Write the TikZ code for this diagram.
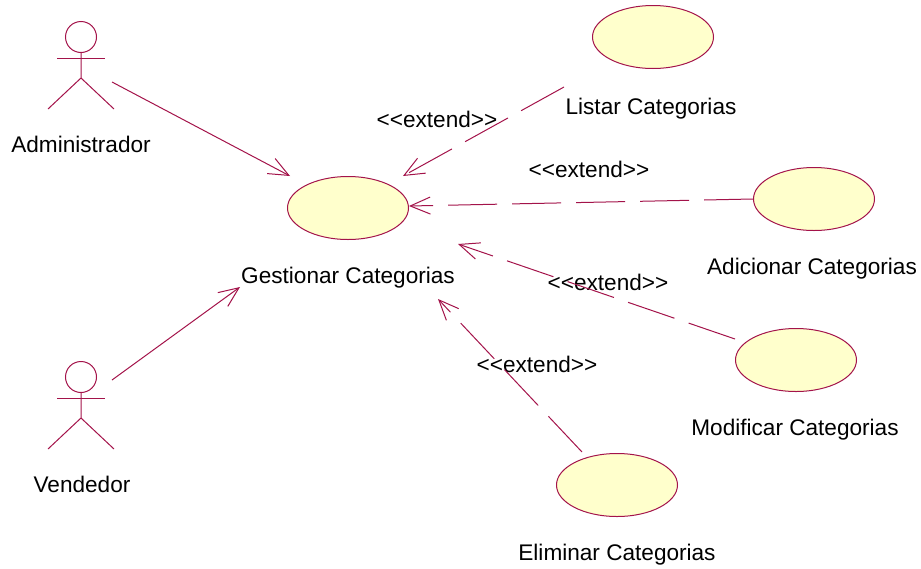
\documentclass[tikz,border=0pt]{standalone}
\usepackage{fontspec}
\setmainfont{Liberation Sans}
\usetikzlibrary{arrows.meta,shapes.geometric}
\definecolor{umlline}{HTML}{A3134A}
\definecolor{umlfill}{HTML}{FFFFCC}
\tikzset{
  uc/.style={ellipse,draw=umlline,fill=umlfill,line width=1pt,minimum width=121pt,minimum height=63pt,inner sep=0pt},
  lbl/.style={text=black,font=\fontsize{22.6pt}{25pt}\selectfont,inner sep=0pt,anchor=center},
  assoc/.style={draw=umlline,line width=1pt,-{Straight Barb[length=20pt,width=17pt,line width=1pt]}},
  ext/.style={assoc,dash pattern=on 49pt off 15pt},
  actorline/.style={draw=umlline,line width=1pt}
}
\newcommand{\actorfig}[2]{%
  \begin{scope}[shift={(#1,#2)}]
    \draw[actorline] (0,-21) circle (15.5);
    \draw[actorline] (-24,0) -- (24,0);
    \draw[actorline] (0,-5.5) -- (0,20) -- (-33,51);
    \draw[actorline] (0,20) -- (33,51);
  \end{scope}}
\begin{document}
\begin{tikzpicture}[x=1pt,y=-1pt]
\useasboundingbox (0,0) rectangle (921,568);
\actorfig{81}{58}
\actorfig{81}{398}
\node[uc] (ges) at (348,208) {};
\node[uc] (lis) at (653,37) {};
\node[uc] (adi) at (814,199) {};
\node[uc] (mod) at (796,360) {};
\node[uc] (eli) at (617,485) {};
\node[lbl] (ladm) at (81,144) {Administrador};
\node[lbl] (lven) at (82,484) {Vendedor};
\node[lbl] (lges) at (348,278) {Gestionar Categorias};
\node[lbl] (llis) at (651,109) {Listar Categorias};
\node[lbl] (ladi) at (812,269) {Adicionar Categorias};
\node[lbl] (lmod) at (795,430) {Modificar Categorias};
\node[lbl] (leli) at (617,555) {Eliminar Categorias};
\node[lbl] (e1) at (437,119) {<{}<extend>{}>};
\node[lbl] (e2) at (589,169) {<{}<extend>{}>};
\node[lbl] (e3) at (608,282) {<{}<extend>{}>};
\node[lbl] (e4) at (537,364) {<{}<extend>{}>};
\coordinate (a1) at (112,82);
\coordinate (a2) at (290,176);
\coordinate (v1) at (112,380);
\coordinate (v2) at (240,287);
\coordinate (l1) at (564,87);
\coordinate (l2) at (403,176);
\coordinate (d1) at (753,199);
\coordinate (d2) at (409,206);
\coordinate (m1) at (735,339);
\coordinate (m2) at (458,244);
\coordinate (n1) at (582,452);
\coordinate (n2) at (438,299);
\draw[assoc] (a1) -- (a2);
\draw[assoc] (v1) -- (v2);
\draw[ext] (l1) -- (l2);
\draw[ext] (d1) -- (d2);
\draw[ext] (m1) -- (m2);
\draw[ext] (n1) -- (n2);
\end{tikzpicture}
\end{document}
